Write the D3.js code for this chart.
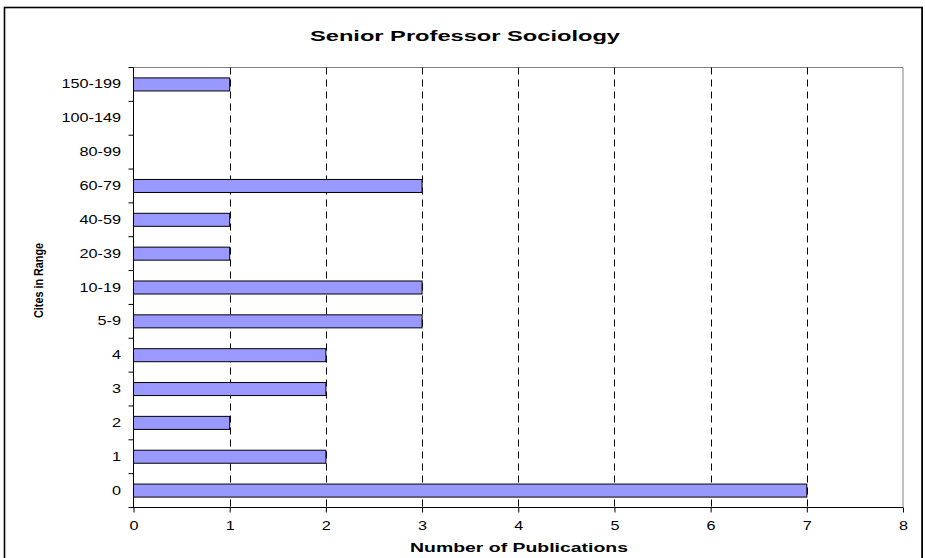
<!DOCTYPE html>
<html>
<head>
<meta charset="utf-8">
<script src="https://cdn.jsdelivr.net/npm/d3@7"></script>
<style>
  body { margin: 0; background: #fff; }
  text { font-family: "Liberation Sans", Arial, sans-serif; fill: #000; }
</style>
</head>
<body>
<svg id="chart" width="925" height="558"></svg>
<script>
// Data: categories top to bottom, and publication counts
const categories = ['150-199', '100-149', '80-99', '60-79', '40-59', '20-39', '10-19', '5-9', '4', '3', '2', '1', '0'];
const counts = [1, 0, 0, 3, 1, 1, 3, 3, 2, 2, 1, 2, 7];
const xTicks = [0, 1, 2, 3, 4, 5, 6, 7, 8];

const title = 'Senior Professor Sociology';
const xTitle = 'Number of Publications';
const yTitle = 'Cites in Range';

const svg = d3.select('#chart');
const plot = {left: 133.5, right: 903, top: 67.5, bottom: 507.5};

// Outer frame
svg.append('rect')
    .attr('x', 4.5).attr('y', 7.5)
    .attr('width', 917.5).attr('height', 570)
    .attr('fill', '#fff')
    .attr('stroke', '#000')
    .attr('stroke-width', 1.6);
svg.append('line')
    .attr('x1', 922.5).attr('x2', 922.5)
    .attr('y1', 7).attr('y2', 558)
    .attr('stroke', '#000')
    .attr('stroke-width', 1);

// Scales
const x = d3.scaleLinear().domain([0, 8]).range([plot.left, plot.right]);
const y = d3.scaleBand().domain(categories).range([plot.top, plot.bottom]).padding(0);
const barH = y.bandwidth() * 0.385;

// Plot border (top / right) in grey
svg.append('path')
    .attr('d', `M${plot.left},${plot.top}H${plot.right}V${plot.bottom}`)
    .attr('fill', 'none')
    .attr('stroke', '#808080')
    .attr('stroke-width', 1);

// Dashed vertical gridlines
svg.append('g')
    .selectAll('line')
    .data(xTicks.filter(t => t > 0 && t < 8))
    .enter()
    .append('line')
    .attr('x1', d => Math.round(x(d)) + 0.5)
    .attr('x2', d => Math.round(x(d)) + 0.5)
    .attr('y1', plot.top)
    .attr('y2', plot.bottom)
    .attr('stroke', '#000')
    .attr('stroke-width', 1)
    .attr('stroke-dasharray', '7,5');

// Bars
svg.append('g')
    .selectAll('rect')
    .data(categories.map((c, i) => ({cat: c, value: counts[i]})).filter(d => d.value > 0))
    .enter()
    .append('rect')
    .attr('x', x(0))
    .attr('y', d => y(d.cat) + (y.bandwidth() - barH) / 2)
    .attr('width', d => x(d.value) - x(0))
    .attr('height', barH)
    .attr('fill', '#9999ff')
    .attr('stroke', '#000')
    .attr('stroke-width', 1);

// X axis
const xAxis = svg.append('g')
    .attr('transform', `translate(0,${plot.bottom})`)
    .call(d3.axisBottom(x).tickValues(xTicks).tickSize(5).tickPadding(9).tickFormat(d3.format('d')));
xAxis.select('.domain').attr('stroke', '#000').attr('d', `M${plot.left - 4},0H${plot.right}`);
xAxis.selectAll('.tick line').attr('stroke', '#000');
xAxis.selectAll('.tick text')
    .attr('font-size', 12.5)
    .attr('font-family', '"Liberation Sans", Arial, sans-serif')
    .attr('transform', 'scale(1.3,1)');

// Y axis: labels at band centres, ticks at band boundaries
const yAxis = svg.append('g')
    .attr('transform', `translate(${plot.left},0)`)
    .call(d3.axisLeft(y).tickSize(0).tickPadding(0));
yAxis.select('.domain').attr('stroke', '#000').attr('d', `M0,${plot.top}V${plot.bottom}`);
yAxis.selectAll('.tick text')
    .attr('font-size', 12.5)
    .attr('font-family', '"Liberation Sans", Arial, sans-serif')
    .attr('x', -12.5 / 1.3)
    .attr('transform', 'scale(1.3,1)');
yAxis.selectAll('.bound')
    .data(d3.range(categories.length + 1))
    .enter()
    .append('line')
    .attr('class', 'bound')
    .attr('x1', -5).attr('x2', 0)
    .attr('y1', i => plot.top + i * y.step())
    .attr('y2', i => plot.top + i * y.step())
    .attr('stroke', '#000');

// Titles
svg.append('text')
    .attr('x', 465).attr('y', 41)
    .attr('text-anchor', 'middle')
    .attr('font-size', 15.5)
    .attr('font-weight', 'bold')
    .attr('textLength', 310)
    .attr('lengthAdjust', 'spacingAndGlyphs')
    .text(title);

svg.append('text')
    .attr('x', 519).attr('y', 551.5)
    .attr('text-anchor', 'middle')
    .attr('font-size', 12.5)
    .attr('font-weight', 'bold')
    .attr('textLength', 218)
    .attr('lengthAdjust', 'spacingAndGlyphs')
    .text(xTitle);

svg.append('text')
    .attr('transform', 'translate(43,280.5) rotate(-90)')
    .attr('text-anchor', 'middle')
    .attr('font-size', 13)
    .attr('font-weight', 'bold')
    .attr('textLength', 75)
    .attr('lengthAdjust', 'spacingAndGlyphs')
    .text(yTitle);
</script>
</body>
</html>
